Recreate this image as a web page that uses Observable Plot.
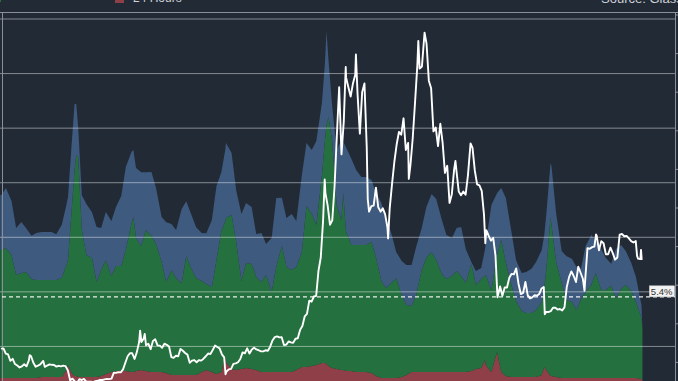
<!DOCTYPE html>
<html><head><meta charset="utf-8">
<script src="https://cdn.jsdelivr.net/npm/d3@7"></script>
<script src="https://cdn.jsdelivr.net/npm/@observablehq/plot@0.6"></script>
<style>
html,body{margin:0;padding:0;background:#222a36;overflow:hidden;}
#wrap{position:relative;width:678px;height:381px;overflow:hidden;background:#222a36;font-family:"Liberation Sans",Arial,sans-serif;}
#head{position:relative;height:12px;border-bottom:1px solid #8a8f98;overflow:hidden;}
.sw{position:absolute;width:9px;height:9px;}
.lt{position:absolute;font-size:12px;line-height:12px;color:#cfd2d7;white-space:nowrap;}
#chart{position:relative;width:678px;height:368px;overflow:hidden;}
#chart svg{position:absolute;left:0;top:0;}
</style></head><body>
<div id="wrap"><div id="head"></div><div id="chart"></div></div>
<script>
// ---- series names / colours ----
const bands = ["24 Hours", "1 Day – 1 Week", "1 Week – 1 Month"];
const bandColors = ["#8e3f47", "#25703f", "#3e5a7e"];
const sourceText = "Source: Glassnode";

// ---- stacked shares (% of supply) ----
const bandDates = [
"2018-04-28","2018-05-01","2018-05-15","2018-06-01","2018-06-15","2018-07-01","2018-07-15","2018-08-01","2018-08-15","2018-09-01","2018-09-15","2018-10-01","2018-10-15","2018-11-01","2018-11-15","2018-11-20","2018-12-01","2018-12-10","2018-12-15","2018-12-21",
"2019-01-01","2019-01-15","2019-02-01","2019-02-15","2019-03-01","2019-03-15","2019-04-01","2019-04-15","2019-05-01","2019-05-15","2019-06-01","2019-06-07","2019-06-15","2019-07-01","2019-07-15","2019-08-01","2019-08-15","2019-09-01","2019-09-15","2019-10-01","2019-10-15","2019-11-01","2019-11-15","2019-12-01","2019-12-15",
"2020-01-01","2020-01-15","2020-02-01","2020-02-15","2020-03-01","2020-03-13","2020-03-15","2020-04-01","2020-04-15","2020-05-01","2020-05-15","2020-06-01","2020-06-15","2020-07-01","2020-07-15","2020-08-01","2020-08-15","2020-09-01","2020-09-15","2020-10-01","2020-10-15","2020-11-01","2020-11-15","2020-12-01","2020-12-15",
"2021-01-01","2021-01-10","2021-01-15","2021-01-21","2021-02-01","2021-02-15","2021-03-01","2021-03-07","2021-03-15","2021-04-01","2021-04-15","2021-05-01","2021-05-15","2021-06-01","2021-06-15","2021-07-01","2021-07-15","2021-08-01","2021-08-15","2021-09-01","2021-09-15","2021-10-01","2021-10-15","2021-11-01","2021-11-15","2021-12-01","2021-12-15",
"2022-01-01","2022-01-15","2022-02-01","2022-02-15","2022-03-01","2022-03-15","2022-04-01","2022-04-15","2022-05-01","2022-05-12","2022-05-15","2022-06-01","2022-06-18","2022-07-01","2022-07-15","2022-08-01","2022-08-15","2022-09-01","2022-09-15","2022-10-01","2022-10-15","2022-11-01","2022-11-09","2022-11-15","2022-11-28","2022-12-01","2022-12-15",
"2023-01-01","2023-01-15","2023-02-01","2023-02-15","2023-03-01","2023-03-15","2023-04-01","2023-04-15","2023-05-01","2023-05-15","2023-06-01","2023-06-15","2023-07-01","2023-07-15","2023-08-01","2023-08-15","2023-09-01","2023-09-04"];

const share24h = [
1.17,1.17,1.17,1.17,1.17,1.17,1.17,1.17,1.17,1.22,1.22,1.22,1.22,1.22,1.58,1.84,1.42,1.27,1.27,1.22,
1.22,1.22,1.22,1.22,1.27,1.37,1.48,1.53,1.53,1.53,1.48,1.48,1.53,1.58,1.53,1.48,1.48,1.48,1.42,1.32,1.32,1.32,1.32,1.32,1.32,
1.48,1.58,1.48,1.37,1.48,2.25,1.99,1.63,1.58,1.63,1.68,1.63,1.58,1.48,1.48,1.48,1.48,1.48,1.48,1.48,1.58,1.74,1.74,1.79,1.84,
1.94,1.94,1.89,1.79,1.68,1.63,1.58,1.58,1.53,1.53,1.48,1.48,1.48,1.42,1.27,1.17,1.17,1.17,1.17,1.22,1.32,1.48,1.48,1.48,1.48,1.48,1.48,
1.48,1.48,1.48,1.48,1.48,1.48,1.53,1.63,1.68,2.10,1.84,1.48,2.51,1.48,1.27,1.22,1.22,1.22,1.22,1.22,1.22,1.32,1.74,1.58,1.27,1.27,1.22,
1.17,1.17,1.17,1.17,1.17,1.17,1.17,1.17,1.17,1.17,1.17,1.17,1.17,1.17,1.17,1.17,1.11,1.06];

const share1d1w = [
6.63,6.63,6.73,6.37,5.34,5.44,5.49,5.13,5.08,5.02,5.02,5.02,5.02,5.13,5.44,5.44,8.44,10.67,11.45,11.40,
7.61,6.32,6.16,4.92,5.49,5.91,4.97,5.44,5.44,6.27,7.67,8.03,6.89,6.42,7.30,7.04,6.63,5.70,4.71,5.44,5.02,4.77,6.16,5.49,5.02,
4.71,4.45,4.40,5.91,7.30,7.04,7.46,7.98,6.63,4.56,5.44,5.44,4.82,4.66,5.02,4.14,5.44,6.53,5.44,5.28,5.34,5.96,8.34,7.87,7.25,
9.69,11.50,12.38,12.90,11.81,8.50,7.77,9.17,7.25,6.53,6.58,6.58,6.58,6.79,6.11,5.02,4.66,4.92,5.18,4.25,3.63,3.42,3.99,5.28,5.91,6.22,5.80,
5.08,4.82,4.97,5.23,4.97,4.61,5.54,4.35,4.61,4.35,4.66,4.25,5.02,6.84,5.85,4.77,3.94,3.42,3.32,3.32,3.47,3.78,4.09,5.18,8.24,7.82,5.96,
4.92,4.04,3.94,3.52,4.09,4.45,4.82,5.44,4.56,4.56,4.77,4.14,4.61,4.82,4.51,3.94,3.16,2.59];

const share1w1m = [
2.85,2.85,3.11,2.80,2.43,2.64,2.28,2.23,2.43,2.49,2.49,2.49,2.38,2.75,3.11,3.26,3.42,3.42,2.64,1.55,
1.81,2.64,2.38,2.85,2.18,2.49,2.85,3.06,3.63,4.30,3.73,3.47,3.63,3.83,3.00,3.32,2.90,2.33,3.11,2.38,2.49,3.83,2.85,2.80,2.64,
2.49,2.64,3.47,3.83,3.06,3.73,3.89,3.21,2.69,3.47,3.11,2.95,2.23,2.54,1.61,2.80,3.57,2.49,2.54,2.90,2.38,3.99,3.26,3.32,4.35,
3.78,3.99,4.87,2.95,1.81,2.85,4.14,2.64,4.35,4.45,3.89,3.52,3.52,3.21,3.37,4.04,3.63,2.54,1.35,1.76,2.07,2.12,2.49,2.18,2.64,3.00,3.16,
2.80,2.28,1.97,2.23,2.54,1.76,0.10,0.73,0.57,1.35,1.66,4.40,3.21,2.69,3.37,2.75,2.12,1.97,2.12,2.28,2.49,2.69,2.75,2.85,2.80,3.06,2.54,
1.66,2.28,2.23,2.23,1.61,2.38,2.59,1.66,2.12,1.66,1.14,2.54,2.28,1.76,1.45,1.30,0.67,0];

// ---- BTC price (USD) ----
const btcPrice = [
["2018-05-01",9600],["2018-05-06",9650],["2018-05-13",8700],["2018-05-20",8530],["2018-05-27",7350],["2018-06-03",7720],["2018-06-10",6770],["2018-06-17",6500],["2018-06-24",6150],["2018-07-01",6350],["2018-07-08",6740],["2018-07-15",6350],["2018-07-22",7400],["2018-07-25",8400],["2018-07-29",8200],["2018-08-05",7000],["2018-08-12",6280],["2018-08-19",6480],["2018-08-26",6700],["2018-09-04",7350],["2018-09-09",6250],["2018-09-16",6500],["2018-09-23",6700],["2018-09-30",6630],["2018-10-07",6600],["2018-10-14",6300],["2018-10-21",6450],["2018-10-28",6350],["2018-11-04",6480],["2018-11-11",6400],["2018-11-18",5600],["2018-11-25",3800],["2018-12-02",4100],["2018-12-09",3600],["2018-12-16",3250],["2018-12-23",4000],["2018-12-30",3850],
["2019-01-06",4050],["2019-01-13",3550],["2019-01-20",3550],["2019-01-27",3550],["2019-02-03",3450],["2019-02-10",3650],["2019-02-17",3700],["2019-02-24",3850],["2019-03-03",3850],["2019-03-10",3950],["2019-03-17",4050],["2019-03-24",4000],["2019-03-31",4100],["2019-04-07",5200],["2019-04-14",5150],["2019-04-21",5300],["2019-04-28",5250],["2019-05-05",5800],["2019-05-12",7000],["2019-05-19",8200],["2019-05-26",8750],["2019-06-02",8750],["2019-06-09",7700],["2019-06-16",8950],["2019-06-23",10800],["2019-06-26",12900],["2019-06-30",10800],["2019-07-07",11450],["2019-07-10",12300],["2019-07-14",10200],["2019-07-21",10500],["2019-07-28",9500],["2019-08-04",11000],["2019-08-11",11300],["2019-08-18",10200],["2019-08-25",10150],["2019-09-01",9750],["2019-09-08",10500],["2019-09-15",10300],["2019-09-22",10000],["2019-09-29",8050],["2019-10-06",7900],["2019-10-13",8300],["2019-10-20",8200],["2019-10-27",9550],["2019-11-03",9200],["2019-11-10",8800],["2019-11-17",8500],["2019-11-24",7000],["2019-12-01",7400],["2019-12-08",7500],["2019-12-15",7100],["2019-12-22",7500],["2019-12-29",7400],
["2020-01-05",7750],["2020-01-12",8200],["2020-01-19",8700],["2020-01-26",8600],["2020-02-02",9350],["2020-02-09",10150],["2020-02-16",9900],["2020-02-23",9650],["2020-03-01",8550],["2020-03-08",8000],["2020-03-12",4900],["2020-03-15",5400],["2020-03-22",5800],["2020-03-29",5900],["2020-04-05",6800],["2020-04-12",6900],["2020-04-19",7100],["2020-04-26",7700],["2020-05-03",8900],["2020-05-10",8750],["2020-05-17",9650],["2020-05-24",8700],["2020-05-31",9450],["2020-06-07",9750],["2020-06-14",9450],["2020-06-21",9300],["2020-06-28",9100],["2020-07-05",9100],["2020-07-12",9300],["2020-07-19",9200],["2020-07-26",9950],["2020-08-02",11100],["2020-08-09",11700],["2020-08-16",11850],["2020-08-23",11650],["2020-08-30",11700],["2020-09-06",10250],["2020-09-13",10330],["2020-09-20",10900],["2020-09-27",10750],["2020-10-04",10650],["2020-10-11",11400],["2020-10-18",11500],["2020-10-25",13030],["2020-11-01",13750],["2020-11-08",15500],["2020-11-15",15950],["2020-11-22",18400],["2020-11-29",18200],["2020-12-06",19150],["2020-12-13",19250],["2020-12-20",23850],["2020-12-27",26300],
["2021-01-03",33000],["2021-01-08",40600],["2021-01-10",38150],["2021-01-17",35800],["2021-01-24",32300],["2021-01-31",33100],["2021-02-07",39300],["2021-02-14",48700],["2021-02-21",57500],["2021-02-28",45200],["2021-03-07",51200],["2021-03-13",61200],["2021-03-14",59300],["2021-03-21",57500],["2021-03-28",55800],["2021-04-04",58200],["2021-04-11",59800],["2021-04-13",63500],["2021-04-18",56200],["2021-04-25",49000],["2021-05-02",56600],["2021-05-09",58200],["2021-05-16",46400],["2021-05-19",37000],["2021-05-23",34700],["2021-05-30",35700],["2021-06-06",35800],["2021-06-13",39100],["2021-06-20",35500],["2021-06-27",34700],["2021-07-04",35300],["2021-07-11",34200],["2021-07-18",31800],["2021-07-20",29800],["2021-07-25",35400],["2021-08-01",39800],["2021-08-08",43800],["2021-08-15",47000],["2021-08-22",49300],["2021-08-29",48800],["2021-09-05",51800],["2021-09-12",46000],["2021-09-19",47300],["2021-09-21",40700],["2021-09-26",43200],["2021-10-03",48200],["2021-10-10",54700],["2021-10-17",61500],["2021-10-20",66000],["2021-10-24",60900],["2021-10-31",61300],["2021-11-08",67500],["2021-11-14",65500],["2021-11-21",58700],["2021-11-28",57300],["2021-12-05",49400],["2021-12-12",50100],["2021-12-19",46700],["2021-12-26",50800],
["2022-01-02",47300],["2022-01-09",41800],["2022-01-16",43100],["2022-01-23",36300],["2022-01-30",37900],["2022-02-06",42400],["2022-02-10",44000],["2022-02-13",42200],["2022-02-20",38400],["2022-02-27",37700],["2022-03-06",38400],["2022-03-13",37800],["2022-03-20",41300],["2022-03-28",47200],["2022-04-03",46400],["2022-04-10",42200],["2022-04-17",39700],["2022-04-24",39500],["2022-05-01",38500],["2022-05-08",34100],["2022-05-12",28900],["2022-05-15",31300],["2022-05-22",30300],["2022-05-29",29400],["2022-06-05",29900],["2022-06-12",26600],["2022-06-18",19000],["2022-06-26",21000],["2022-07-03",19300],["2022-07-10",20800],["2022-07-17",20800],["2022-07-24",22600],["2022-07-31",23300],["2022-08-07",23200],["2022-08-14",24300],["2022-08-21",21500],["2022-08-28",19600],["2022-09-04",19800],["2022-09-11",21800],["2022-09-18",19400],["2022-09-25",18800],["2022-10-02",19000],["2022-10-09",19400],["2022-10-16",19300],["2022-10-23",19600],["2022-10-30",20600],["2022-11-06",20900],["2022-11-09",15900],["2022-11-13",16300],["2022-11-20",16300],["2022-11-27",16450],["2022-12-04",17100],["2022-12-11",17100],["2022-12-18",16750],["2022-12-25",16850],
["2023-01-01",16600],["2023-01-08",17150],["2023-01-15",20900],["2023-01-22",22700],["2023-01-29",23750],["2023-02-05",22900],["2023-02-12",21800],["2023-02-19",24600],["2023-02-26",23500],["2023-03-05",22400],["2023-03-10",20200],["2023-03-12",22100],["2023-03-19",28000],["2023-03-26",27900],["2023-04-02",28200],["2023-04-09",28300],["2023-04-14",30500],["2023-04-16",30300],["2023-04-23",27600],["2023-04-30",29300],["2023-05-07",28900],["2023-05-14",26900],["2023-05-21",26900],["2023-05-28",28100],["2023-06-04",27100],["2023-06-11",25900],["2023-06-18",26300],["2023-06-25",30500],["2023-07-02",30600],["2023-07-09",30200],["2023-07-16",30250],["2023-07-23",29800],["2023-07-30",29300],["2023-08-06",29050],["2023-08-13",29300],["2023-08-17",26600],["2023-08-20",26100],["2023-08-27",26000],["2023-08-29",27700],["2023-08-31",26000]];

// ---- axes ----
const xDomain = ["2018-05-03", "2023-12-12"];
const priceTicks = [10000, 20000, 30000, 40000, 50000, 60000, 70000];
const priceDomain = [0, 70000];
const shareTicks = [0, 2, 4, 6, 8, 10, 12, 14, 16, 18, 20];
const shareDomain = [0, 20];
const refLevel = 5.4;
const refLabel = "5.4%";

// ---- header (legend + source) ----
const head = document.getElementById("head");
head.innerHTML =
  `<div class="sw" style="left:-8px;top:-7px;background:${bandColors[1]}"></div>` +
  `<div class="sw" style="left:115px;top:-6px;background:${bandColors[0]}"></div>` +
  `<div class="lt" style="left:133px;top:-8px">${bands[0]}</div>` +
  `<div class="lt" style="left:601px;top:-7px;font-size:13px">${sourceText}</div>`;

// ---- build ----
const stacked = [];
bandDates.forEach((d, i) => {
  [share24h, share1d1w, share1w1m].forEach((s, j) => stacked.push({date: new Date(d), band: bands[j], share: s[i]}));
});
const prices = btcPrice.map(([d, v]) => ({date: new Date(d), price: v}));

const W = 678, H = 368;
const xs = {type: "utc", domain: xDomain.map(d => new Date(d))};
const base = {width: W, height: H, marginLeft: 2, marginRight: 3, marginTop: -1, marginBottom: -14,
  style: {background: "transparent", overflow: "hidden"}};
const shareY = {domain: shareDomain, range: [387.5, 1.5]};
const priceY = {domain: priceDomain, range: [387.5, 5.5]};

const layerA = Plot.plot({...base, x: {...xs, axis: null}, y: {...shareY, axis: null},
  color: {domain: bands, range: bandColors},
  marks: [
    Plot.areaY(stacked, {x: "date", y: "share", z: "band", fill: "band", order: bands, curve: "linear"})
  ]});

const layerB = Plot.plot({...base, x: {...xs, axis: null, label: null}, y: {...priceY, axis: null, label: null},
  marks: [
    Plot.gridY(priceTicks, {stroke: "#ffffff", strokeOpacity: 0.45}),
    Plot.axisY(priceTicks, {anchor: "left", tickSize: 2, tickFormat: () => "", label: null, stroke: "#ffffff", strokeOpacity: 0.45}),
    Plot.frame({stroke: "#8a8f98"}),
    Plot.lineY(prices, {x: "date", y: "price", stroke: "#ffffff", strokeWidth: 1.9, curve: "linear"})
  ]});

const layerC = Plot.plot({...base, x: {...xs, axis: null, label: null}, y: {...shareY, axis: null, label: null},
  marks: [
    Plot.axisY(shareTicks, {anchor: "right", tickSize: 3, tickFormat: () => "", label: null, stroke: "#8a8f98"}),
    Plot.ruleY([refLevel], {stroke: "#ffffff", strokeWidth: 1.3, strokeDasharray: "4,3", strokeOpacity: 0.9}),
    Plot.text([refLabel], {y: () => refLevel, text: d => d, frameAnchor: "right", textAnchor: "end", dx: -3, dy: -5,
      fill: "#333333", fontSize: 9.5, fontFamily: "Liberation Sans, Arial, sans-serif"})
  ]});

const chart = document.getElementById("chart");
chart.appendChild(layerA);
chart.appendChild(layerB);
chart.appendChild(layerC);

// background box behind the reference label
const t = Array.from(layerC.querySelectorAll("text")).find(e => e.textContent === refLabel);
if (t) {
  const bb = t.getBBox();
  const r = document.createElementNS("http://www.w3.org/2000/svg", "rect");
  r.setAttribute("x", bb.x - 1.5);
  r.setAttribute("y", bb.y);
  r.setAttribute("width", bb.width + 3);
  r.setAttribute("height", bb.height);
  r.setAttribute("fill", "#f2f2f2");
  r.setAttribute("stroke", "#cfcfcf");
  r.setAttribute("stroke-width", 0.5);
  if (t.getAttribute("transform")) r.setAttribute("transform", t.getAttribute("transform"));
  t.parentNode.insertBefore(r, t);
}
</script>
</body></html>
